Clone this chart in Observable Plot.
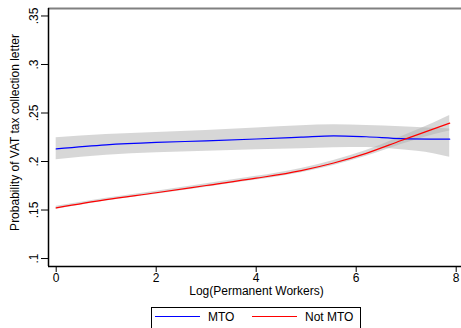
<!DOCTYPE html>
<html>
<head>
<meta charset="utf-8">
<script src="https://cdn.jsdelivr.net/npm/d3@7"></script>
<script src="https://cdn.jsdelivr.net/npm/@observablehq/plot@0.6"></script>
<style>
  html, body { margin: 0; padding: 0; background: #fff; }
  #wrap { position: relative; width: 461px; height: 328px; overflow: hidden; }
</style>
</head>
<body>
<div id="wrap"></div>
<script>
const xs      = [0, 1, 2, 3, 4, 4.9, 5.55, 6.2, 6.9, 7.55, 7.87];
const mtoFit  = [0.2130, 0.2172, 0.2197, 0.2213, 0.2232, 0.2251, 0.2265, 0.2255, 0.2236, 0.2231, 0.2230];
const mtoLo   = [0.2017, 0.2065, 0.2090, 0.2105, 0.2120, 0.2131, 0.2142, 0.2145, 0.2120, 0.2080, 0.2044];
const mtoHi   = [0.2244, 0.2278, 0.2300, 0.2320, 0.2345, 0.2368, 0.2378, 0.2372, 0.2358, 0.2342, 0.2335];
const notFit  = [0.1523, 0.1608, 0.1678, 0.1753, 0.1828, 0.1907, 0.1985, 0.2084, 0.2216, 0.2337, 0.2395];
const notLo   = [0.1508, 0.1594, 0.1662, 0.1736, 0.1809, 0.1885, 0.1960, 0.2054, 0.2176, 0.2277, 0.2315];
const notHi   = [0.1538, 0.1622, 0.1694, 0.1770, 0.1847, 0.1929, 0.2010, 0.2114, 0.2256, 0.2397, 0.2475];
const xTicks  = [0, 2, 4, 6, 8];
const yTicks  = [0.1, 0.15, 0.2, 0.25, 0.3, 0.35];
const yTickLabels = [".1", ".15", ".2", ".25", ".3", ".35"];
const series  = ["MTO", "Not MTO"];
const colors  = ["#0000ff", "#ff0000"];

const xDomain = [-0.154, 8.106];
const yDomain = [0.0918, 0.3577];

const mto = xs.map((x, i) => ({x, y: mtoFit[i], lo: mtoLo[i], hi: mtoHi[i]}));
const notMto = xs.map((x, i) => ({x, y: notFit[i], lo: notLo[i], hi: notHi[i]}));
const yT = yTicks.map((v, i) => ({v, t: yTickLabels[i]}));

const font = "Liberation Sans, Arial, sans-serif";
const curve = "monotone-x";

const chart = Plot.plot({
  width: 461,
  height: 328,
  marginLeft: 48,
  marginRight: 0,
  marginTop: 8,
  marginBottom: 62,
  style: {fontFamily: font, fontSize: "12px", color: "#000", background: "#fff"},
  x: {domain: xDomain},
  y: {domain: yDomain},
  marks: [
    Plot.areaY(mto, {x: "x", y1: "lo", y2: "hi", fill: "#b0b0b0", fillOpacity: 0.5, curve}),
    Plot.areaY(notMto, {x: "x", y1: "lo", y2: "hi", fill: "#b0b0b0", fillOpacity: 0.5, curve}),
    Plot.lineY(mto, {x: "x", y: "y", stroke: colors[0], strokeWidth: 1.2, curve}),
    Plot.lineY(notMto, {x: "x", y: "y", stroke: colors[1], strokeWidth: 1.2, curve}),
    Plot.ruleY([yDomain[1]], {stroke: "#808080", strokeWidth: 2}),
    Plot.ruleX([xDomain[0]], {stroke: "#000", strokeWidth: 1.5}),
    Plot.ruleY([yDomain[0]], {stroke: "#000", strokeWidth: 1.5}),
    Plot.axisX({ticks: xTicks, tickSize: 6, tickPadding: 1, fontSize: 12, label: null, tickFormat: d => String(d)}),
    Plot.axisY({ticks: yTicks, tickSize: 7, tickFormat: () => "", label: null}),
    Plot.text(yT, {y: "v", text: "t", frameAnchor: "left", textAnchor: "middle", dx: -14, rotate: -90, fontSize: 12}),
    Plot.text(["Log(Permanent Workers)"], {frameAnchor: "bottom", dy: 28, dx: 1.5, fontSize: 12}),
    Plot.text(["Probability of VAT tax collection letter"], {frameAnchor: "left", textAnchor: "middle", dx: -33, dy: -5, rotate: -90, fontSize: 12})
  ]
});

document.getElementById("wrap").appendChild(chart);

// legend (drawn into the same SVG, below the plot)
const svg = d3.select(chart);
const lg = svg.append("g").attr("font-family", font).attr("font-size", 12).attr("text-anchor", "start");
lg.append("rect").attr("x", 151.5).attr("y", 307.5).attr("width", 209).attr("height", 30)
  .attr("fill", "#fff").attr("stroke", "#000").attr("stroke-width", 1);
const items = [{s: 155, t: 208}, {s: 252, t: 305}];
series.forEach((name, i) => {
  lg.append("line").attr("x1", items[i].s).attr("x2", items[i].s + 45)
    .attr("y1", 316.5).attr("y2", 316.5).attr("stroke", colors[i]).attr("stroke-width", 1.2);
  lg.append("text").attr("x", items[i].t).attr("y", 317).attr("dy", "0.35em")
    .attr("text-anchor", "start").attr("fill", "#000").text(name);
});
</script>
</body>
</html>
